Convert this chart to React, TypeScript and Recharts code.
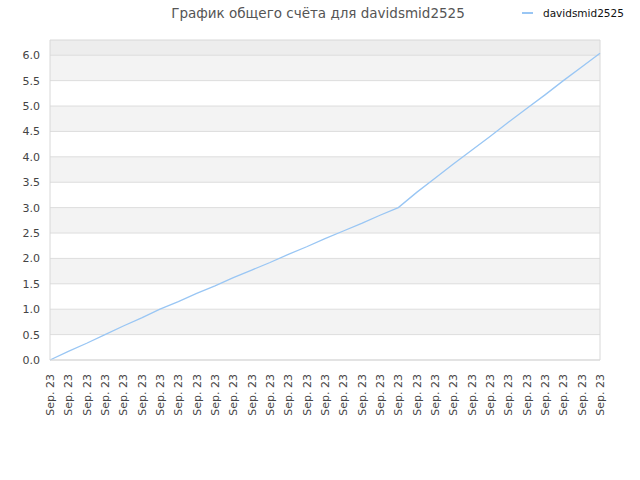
import React from 'react';
import { LineChart, Line, XAxis, YAxis, ReferenceArea, ReferenceLine } from 'recharts';

const dates = Array.from({ length: 31 }, () => 'Sep. 23');

const scores = [
  0, 0.17, 0.33, 0.5, 0.67, 0.83, 1.0, 1.15, 1.31, 1.46, 1.62, 1.77, 1.92, 2.08, 2.23, 2.39,
  2.54, 2.69, 2.85, 3.0, 3.3, 3.58, 3.86, 4.13, 4.4, 4.68, 4.95, 5.22, 5.5, 5.77, 6.04,
];

const yTicks = [0, 0.5, 1, 1.5, 2, 2.5, 3, 3.5, 4, 4.5, 5, 5.5, 6];
const yMax = 6.3;

const data = dates.map((d, i) => ({ i, date: d, score: scores[i] }));

const FONT = '"DejaVu Sans", sans-serif';
const LINE_COLOR = '#99c6f4';

const XTick = (props: any) => {
  const { x, y, payload } = props;
  return (
    <text
      x={x + 4}
      y={y + 6}
      transform={`rotate(-90, ${x + 4}, ${y + 6})`}
      textAnchor="end"
      fontSize={11}
      fontFamily={FONT}
      fill="#444"
    >
      {dates[payload.value]}
    </text>
  );
};

export default function App() {
  return (
    <div style={{ position: 'absolute', top: 0, left: 0, width: 640, height: 480, background: '#fff' }}>
      <LineChart width={640} height={480} data={data} margin={{ top: 40, right: 40, bottom: 60, left: 0 }}>
        {yTicks.map((t, k) => (
          <ReferenceArea
            key={`band-${t}`}
            y1={t}
            y2={k < yTicks.length - 1 ? yTicks[k + 1] : yMax}
            fill={k === yTicks.length - 1 ? '#ededed' : k % 2 === 1 ? '#f3f3f3' : '#ffffff'}
            fillOpacity={1}
            stroke="none"
            ifOverflow="visible"
          />
        ))}
        {yTicks.map((t) => (
          <ReferenceLine key={`grid-${t}`} y={t} stroke="#dddddd" strokeWidth={1} />
        ))}
        <XAxis
          dataKey="i"
          type="category"
          interval={0}
          tick={<XTick />}
          tickLine={false}
          axisLine={{ stroke: '#d8d8d8' }}
          height={60}
        />
        <YAxis
          domain={[0, yMax]}
          ticks={yTicks}
          tickFormatter={(v: number) => v.toFixed(1)}
          tick={{ fontSize: 11, fontFamily: FONT, fill: '#444' }}
          tickLine={false}
          axisLine={{ stroke: '#d8d8d8' }}
          tickMargin={4}
          width={50}
        />
        <ReferenceLine y={yMax} stroke="#d8d8d8" />
        <ReferenceLine x={scores.length - 1} stroke="#d8d8d8" />
        <Line
          type="linear"
          dataKey="score"
          name="davidsmid2525"
          stroke={LINE_COLOR}
          strokeWidth={1.3}
          dot={false}
          isAnimationActive={false}
        />
      </LineChart>
      <div
        style={{
          position: 'absolute',
          top: 5,
          left: 0,
          width: 636,
          textAlign: 'center',
          fontFamily: FONT,
          fontSize: 13.5,
          lineHeight: '16px',
          color: '#555',
        }}
      >
        График общего счёта для davidsmid2525
      </div>
      <div
        style={{
          position: 'absolute',
          top: 5,
          left: 522,
          height: 16,
          display: 'flex',
          alignItems: 'center',
          fontFamily: FONT,
          fontSize: 10.5,
          lineHeight: '16px',
          color: '#111',
        }}
      >
        <span style={{ display: 'inline-block', width: 11, height: 2, background: LINE_COLOR, marginRight: 10 }} />
        <span>davidsmid2525</span>
      </div>
    </div>
  );
}
